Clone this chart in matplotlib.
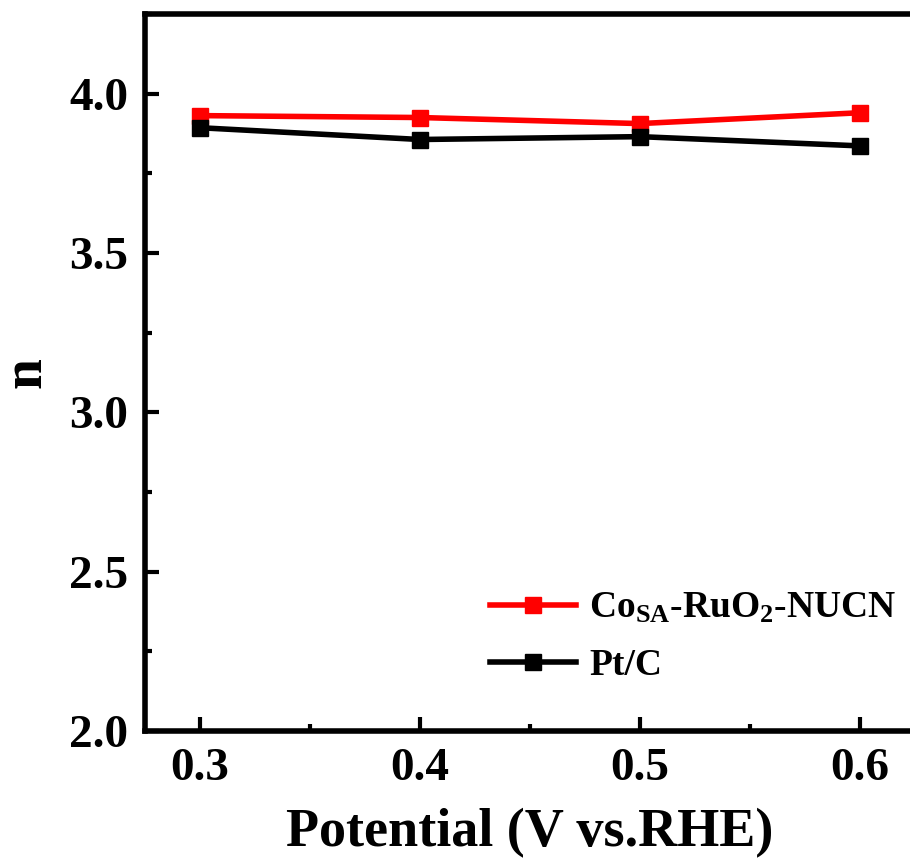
import matplotlib
matplotlib.use("Agg")
import matplotlib.pyplot as plt
from matplotlib.ticker import MultipleLocator

plt.rcParams['font.family'] = ['Liberation Serif', 'DejaVu Serif']
plt.rcParams['font.weight'] = 'bold'
plt.rcParams['mathtext.fontset'] = 'custom'
plt.rcParams['mathtext.rm'] = 'Liberation Serif:bold'
plt.rcParams['mathtext.bf'] = 'Liberation Serif:bold'
plt.rcParams['mathtext.default'] = 'bf'

# electron transfer number vs potential
potential = [0.3, 0.4, 0.5, 0.6]
n_cosa = [3.931, 3.925, 3.906, 3.940]
n_ptc = [3.893, 3.856, 3.865, 3.836]
label_cosa = r'Co$_{\mathbf{SA}}$-RuO$_{\mathbf{2}}$-NUCN'
label_ptc = 'Pt/C'

fig = plt.figure(figsize=(9.1, 8.61), dpi=100)
ax = fig.add_axes([0.1593, 0.151, 0.846, 0.8328])

ax.plot(potential, n_cosa, color='red', lw=4, marker='s', ms=11.5, label=label_cosa)
ax.plot(potential, n_ptc, color='black', lw=4, marker='s', ms=11.5, label=label_ptc)

ax.set_xlim(0.275, 0.625)
ax.set_ylim(2.0, 4.25)
ax.xaxis.set_major_locator(MultipleLocator(0.1))
ax.xaxis.set_minor_locator(MultipleLocator(0.05))
ax.yaxis.set_major_locator(MultipleLocator(0.5))
ax.yaxis.set_minor_locator(MultipleLocator(0.25))

for s in ax.spines.values():
    s.set_linewidth(4)
ax.tick_params(which='major', direction='in', length=10, width=3, labelsize=34, pad=12)
ax.tick_params(which='minor', direction='in', length=5, width=3)
ax.tick_params(axis='x', which='both', top=False)
ax.tick_params(axis='y', which='both', right=False)

ax.set_xlabel('Potential (V vs.RHE)', fontsize=39, fontweight='bold', labelpad=13)
ax.set_ylabel('n', fontsize=40, fontweight='bold', labelpad=12)

ax.legend(loc='center left', bbox_to_anchor=(0.448, 0.131), frameon=False, fontsize=27,
          borderpad=0, borderaxespad=0, handlelength=2.3, handletextpad=0.35,
          labelspacing=0.6)

fig.savefig('out.png', dpi=100)
